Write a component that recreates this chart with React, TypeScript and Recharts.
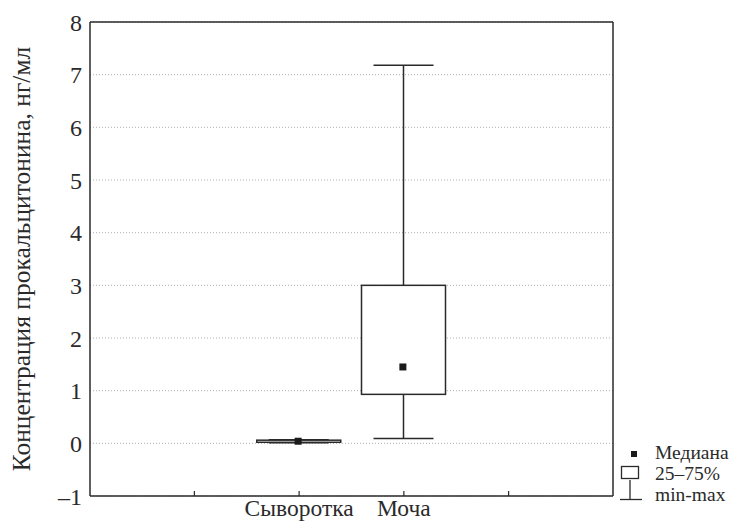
import React from "react";
import {
  ComposedChart,
  Bar,
  Scatter,
  XAxis,
  YAxis,
  CartesianGrid,
} from "recharts";

const categories = ["", "Сыворотка", "Моча", " "];
const mins: (number | null)[] = [null, 0.01, 0.09, null];
const q1s: (number | null)[] = [null, 0.02, 0.93, null];
const medians: (number | null)[] = [null, 0.04, 1.45, null];
const q3s: (number | null)[] = [null, 0.06, 3.0, null];
const maxs: (number | null)[] = [null, 0.07, 7.18, null];
const yTicks = [-1, 0, 1, 2, 3, 4, 5, 6, 7, 8];

const yLabel = "Концентрация прокальцитонина, нг/мл";
const legendLabels = ["Медиана", "25–75%", "min-max"];

const data = categories.map((name, i) => ({
  name,
  range: mins[i] != null && maxs[i] != null ? [mins[i], maxs[i]] : undefined,
  box: q1s[i] != null && q3s[i] != null ? [q1s[i], q3s[i]] : undefined,
  median: medians[i] ?? undefined,
}));

const FONT = "'Liberation Serif', 'DejaVu Serif', serif";
const INK = "#2a2a2a";

const WhiskerShape = (props: any) => {
  const { x, y, width, height } = props;
  if (x == null || y == null || !isFinite(y)) return null;
  const cx = x + width / 2;
  const top = Math.min(y, y + height);
  const bottom = Math.max(y, y + height);
  return (
    <g stroke={INK} strokeWidth={1.5} fill="none">
      <line x1={cx} x2={cx} y1={top} y2={bottom} />
      <line x1={x} x2={x + width} y1={top} y2={top} />
      <line x1={x} x2={x + width} y1={bottom} y2={bottom} />
    </g>
  );
};

const BoxShape = (props: any) => {
  const { x, y, width, height } = props;
  if (x == null || y == null || !isFinite(y)) return null;
  const top = Math.min(y, y + height);
  const h = Math.abs(height);
  return (
    <rect
      x={x}
      y={top}
      width={width}
      height={Math.max(h, 1)}
      fill="#fff"
      stroke={INK}
      strokeWidth={1.5}
    />
  );
};

const MedianShape = (props: any) => {
  const { cx, cy } = props;
  if (cx == null || cy == null) return null;
  return <rect x={cx - 4.5} y={cy - 3.5} width={7} height={7} fill="#1a1a1a" />;
};

const YLabel = (props: any) => {
  const vb = props.viewBox || {};
  const cy = vb.y + vb.height / 2;
  const x = 30;
  return (
    <text
      x={x}
      y={cy}
      transform={`rotate(-90, ${x}, ${cy})`}
      textAnchor="middle"
      style={{ fontFamily: FONT, fontSize: 25.5 }}
      fill={INK}
    >
      {yLabel}
    </text>
  );
};

export default function App() {
  return (
    <div style={{ position: "absolute", left: 0, top: 0, width: 745, height: 522, background: "#fff", fontFamily: FONT }}>
      <ComposedChart
        width={745}
        height={522}
        data={data}
        margin={{ top: 21, right: 131, bottom: 0, left: 0 }}
        style={{ fontFamily: FONT }}
      >
        <CartesianGrid
          vertical={false}
          stroke="#b0b0b0"
          strokeDasharray="1 2"
        />
        <XAxis
          xAxisId="b"
          dataKey="name"
          type="category"
          orientation="bottom"
          height={26}
          padding={{ left: 52, right: 52 }}
          axisLine={{ stroke: INK, strokeWidth: 1.5 }}
          tickLine={{ stroke: INK, strokeWidth: 1.2 }}
          tickSize={-5}
          tickMargin={8}
          interval={0}
          tick={{ fontFamily: FONT, fontSize: 23.5, fill: INK }}
        />
        <XAxis
          xAxisId="w"
          dataKey="name"
          type="category"
          orientation="top"
          height={1}
          padding={{ left: 52, right: 52 }}
          axisLine={{ stroke: INK, strokeWidth: 1.5 }}
          tickLine={{ stroke: INK, strokeWidth: 1.2 }}
          tickSize={5}
          interval={0}
          tick={false}
        />
        <YAxis
          type="number"
          domain={[-1, 8]}
          ticks={yTicks}
          interval={0}
          width={90}
          axisLine={{ stroke: INK, strokeWidth: 1.5 }}
          tickLine={false}
          tick={{ fontFamily: FONT, fontSize: 24, fill: INK }}
          tickFormatter={(v: number) => (v < 0 ? "–" + Math.abs(v) : String(v))}
          label={<YLabel />}
        />
        <YAxis
          yAxisId="r"
          orientation="right"
          type="number"
          domain={[-1, 8]}
          width={1}
          axisLine={{ stroke: INK, strokeWidth: 1.5 }}
          tickLine={false}
          tick={false}
        />
        <Bar
          xAxisId="w"
          dataKey="range"
          barSize={60}
          shape={<WhiskerShape />}
          isAnimationActive={false}
        />
        <Bar
          xAxisId="b"
          dataKey="box"
          barSize={84}
          shape={<BoxShape />}
          isAnimationActive={false}
        />
        <Scatter
          xAxisId="b"
          dataKey="median"
          shape={<MedianShape />}
          isAnimationActive={false}
        />
      </ComposedChart>
      <svg
        width={745}
        height={522}
        style={{ position: "absolute", left: 0, top: 0, pointerEvents: "none" }}
      >
        <rect x={631} y={451} width={6} height={6} fill="#1a1a1a" />
        <rect x={621.5} y={466.5} width={17} height={12} fill="none" stroke={INK} strokeWidth={1.3} />
        <line x1={630} x2={630} y1={480} y2={499} stroke={INK} strokeWidth={1.3} />
        <line x1={620} x2={642} y1={499.5} y2={499.5} stroke={INK} strokeWidth={1.3} />
        <g style={{ fontFamily: FONT, fontSize: 19.5 }} fill={INK}>
          <text x={655} y={459}>{legendLabels[0]}</text>
          <text x={655} y={480}>{legendLabels[1]}</text>
          <text x={655} y={501}>{legendLabels[2]}</text>
        </g>
      </svg>
    </div>
  );
}
